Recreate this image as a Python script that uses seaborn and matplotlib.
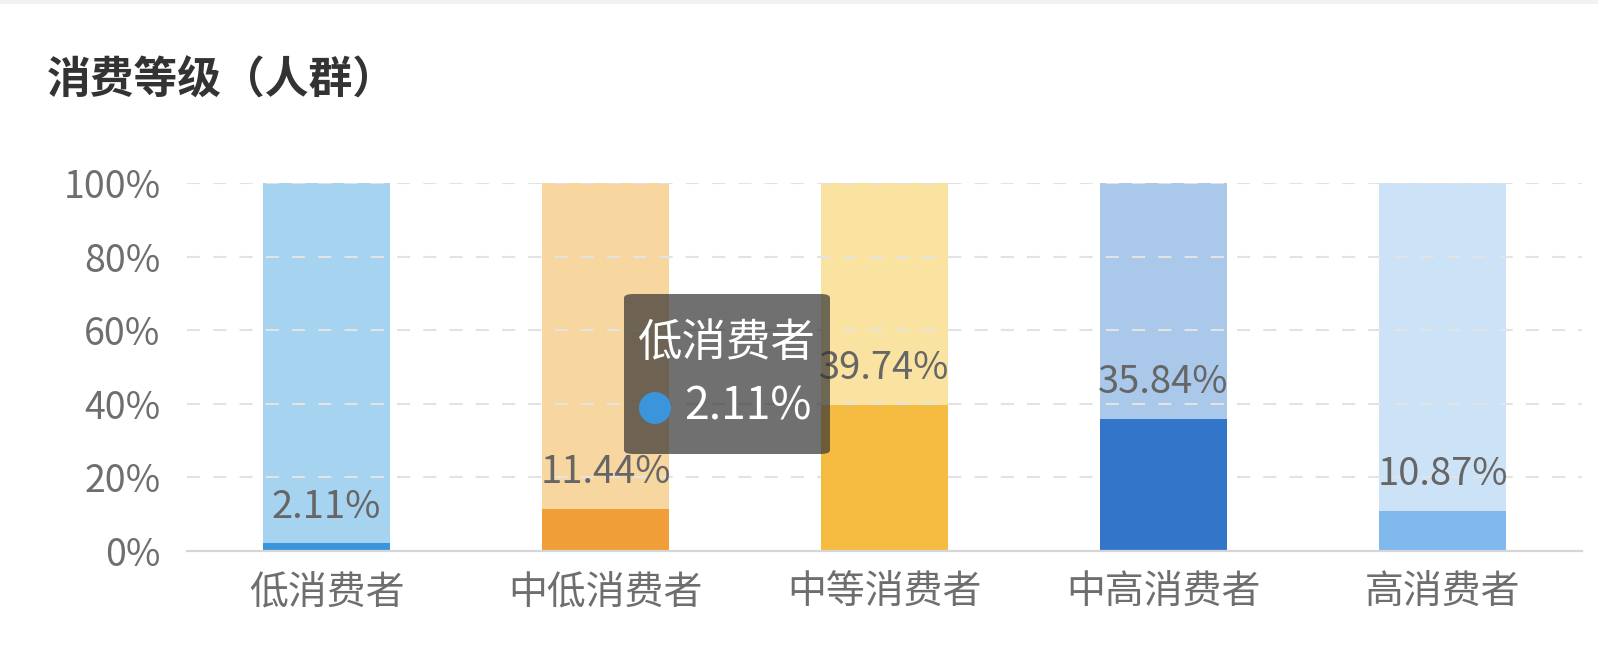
import matplotlib
matplotlib.use("Agg")
import matplotlib.pyplot as plt
from matplotlib.patches import FancyBboxPatch, Circle, Rectangle
import seaborn as sns
import pandas as pd

# Consumption level share of the audience
categories = ["低消费者", "中低消费者", "中等消费者", "中高消费者", "高消费者"]
shares = [2.11, 11.44, 39.74, 35.84, 10.87]
full_scale = [100, 100, 100, 100, 100]
fg_colors = ["#3A95DA", "#F09F38", "#F5BC41", "#3375C8", "#80B9EE"]
bg_colors = ["#A6D3EF", "#F8D6A0", "#FAE3A0", "#A9C8EA", "#CCE2F7"]
y_ticks = [0, 20, 40, 60, 80, 100]
title = "消费等级（人群）"
tooltip_index = 0

sns.set_theme(style="white")
plt.rcParams["font.family"] = ["Noto Sans CJK SC", "DejaVu Sans"]

df = pd.DataFrame({"level": categories, "share": shares, "full": full_scale})

W, H = 1598, 646
fig = plt.figure(figsize=(W / 100, H / 100), dpi=100)
ax = fig.add_axes([187 / W, (H - 551) / H, (1582 - 187) / W, (551 - 183) / H])

bar_w = 0.455
sns.barplot(data=df, x="level", y="full", hue="level", palette=bg_colors,
            width=bar_w, legend=False, ax=ax, zorder=1, linewidth=0, saturation=1,
            order=categories, hue_order=categories)
sns.barplot(data=df, x="level", y="share", hue="level", palette=fg_colors,
            width=bar_w, legend=False, ax=ax, zorder=3, linewidth=0, saturation=1,
            order=categories, hue_order=categories)

ax.set_xlim(-0.5, len(categories) - 0.5)
ax.set_ylim(0, 100)

# dashed horizontal grid, visible over the pale background bars only
for t in y_ticks[1:]:
    ax.axhline(t, color="#E3E3E3", lw=1.5, ls=(0, (6.3, 6.3)), zorder=2)

for s in ["top", "right", "left"]:
    ax.spines[s].set_visible(False)
ax.spines["bottom"].set_color("#D6D6D6")
ax.spines["bottom"].set_linewidth(1.6)
ax.spines["bottom"].set_zorder(4)

ax.set_yticks(y_ticks)
ax.set_yticklabels([f"{t}%" for t in y_ticks])
ax.tick_params(axis="y", length=0, pad=19, labelsize=27, labelcolor="#6E6E6E")
ax.tick_params(axis="x", length=0, pad=16, labelsize=28, labelcolor="#6E6E6E")
ax.set_xlabel("")
ax.set_ylabel("")

# value labels above each filled segment
for i, v in enumerate(shares):
    ax.annotate(f"{v:.2f}%", xy=(i, v), xytext=(0, 18.5), textcoords="offset points",
                ha="center", va="baseline", fontsize=27.5, color="#666666", zorder=5)

fig.text(47 / W, 1 - 81 / H, title, fontsize=31.5, fontweight="bold",
         color="#333333", ha="left", va="center")

# thin top border strip
fig.patches.append(Rectangle((0, 1 - 4 / H), 1, 4 / H, transform=fig.transFigure,
                             facecolor="#F2F2F2", edgecolor="none"))

# hover tooltip for the first category
bx0, by0, bx1, by1 = 624, 294, 830, 454
box = FancyBboxPatch((bx0 / W, 1 - by1 / H), (bx1 - bx0) / W, (by1 - by0) / H,
                     boxstyle="round,pad=0,rounding_size=0.006",
                     transform=fig.transFigure, facecolor="#333333", alpha=0.7,
                     edgecolor="none", zorder=10)
fig.patches.append(box)
fig.text(726 / W, 1 - 343 / H, categories[tooltip_index], fontsize=32,
         color="white", ha="center", va="center", zorder=11)
dot = Circle((655, H - 408), 16, transform=None, facecolor=fg_colors[tooltip_index],
             edgecolor="none", zorder=11)
fig.patches.append(dot)
fig.text(684 / W, 1 - 406 / H, f"{shares[tooltip_index]:.2f}%", fontsize=32,
         color="white", ha="left", va="center", zorder=11)

fig.savefig("out.png", dpi=100, facecolor="white")
